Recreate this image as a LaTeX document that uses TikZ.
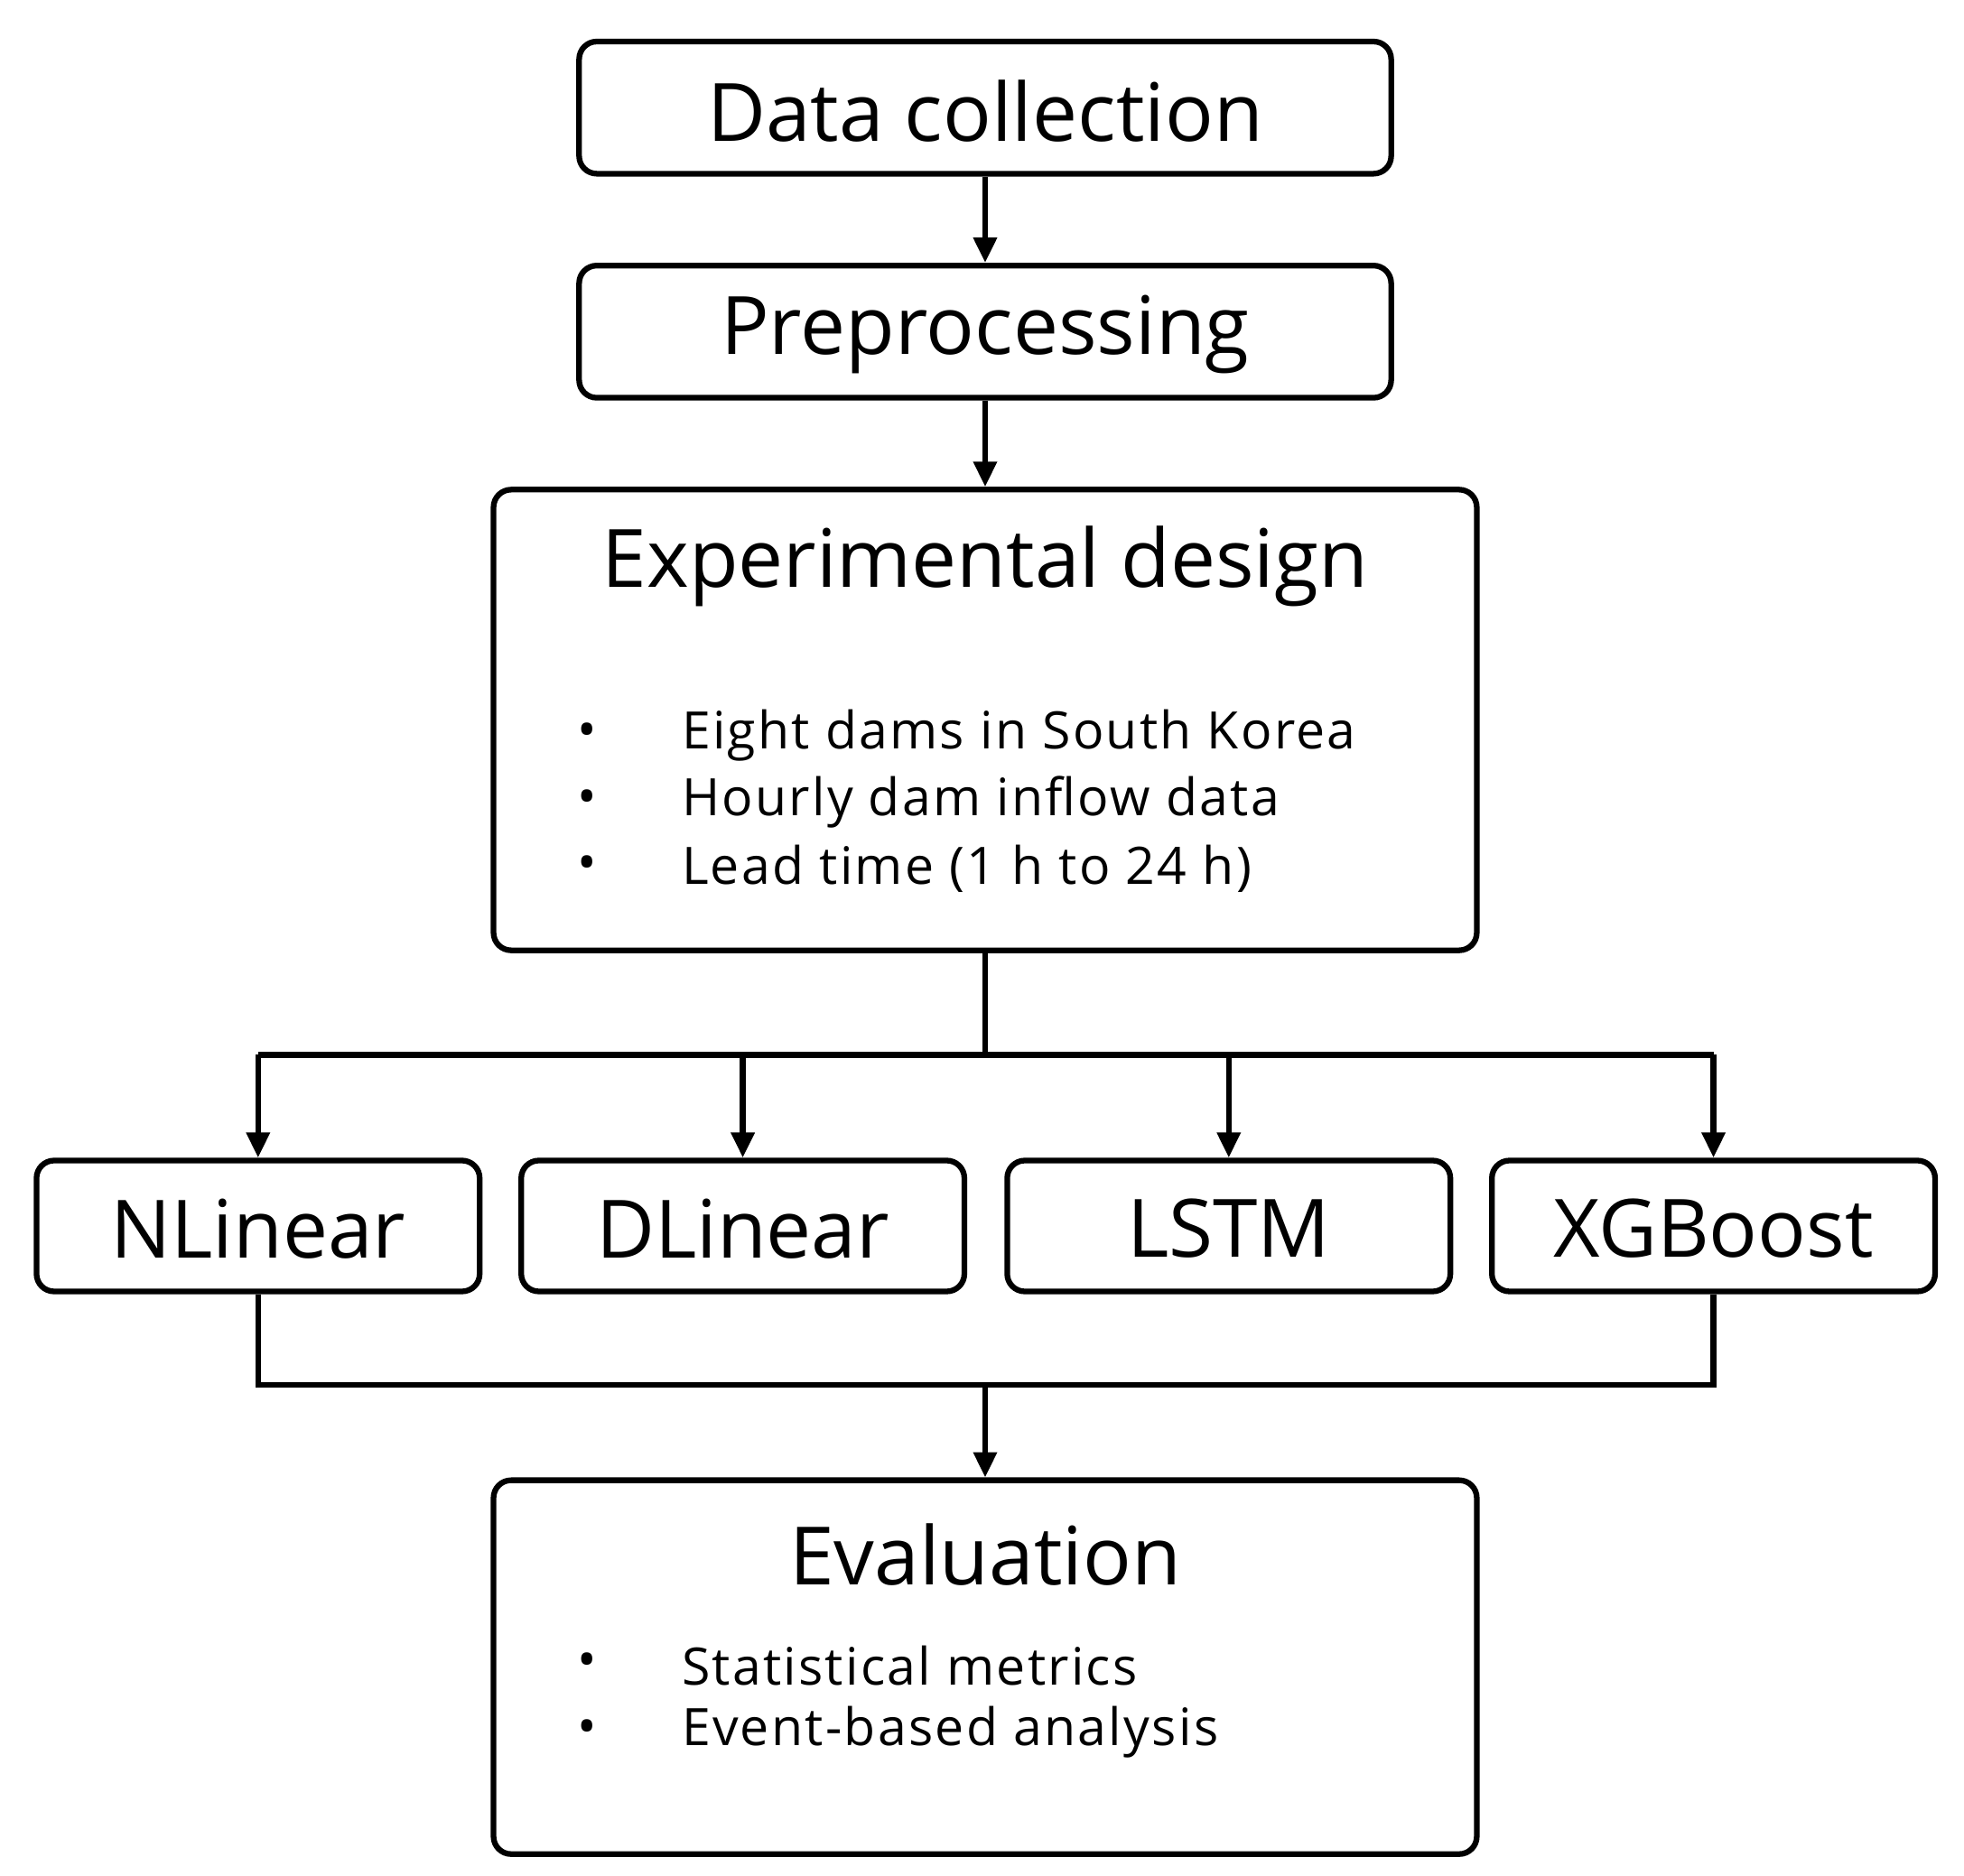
\documentclass[tikz,border=0pt]{standalone}
\usepackage{fontspec}
\setmainfont{Open Sans}
\usetikzlibrary{arrows.meta}
\begin{document}
\begin{tikzpicture}[x=1pt,y=-1pt,
  box/.style={draw,line width=4.5pt,rounded corners=14pt,inner sep=0pt},
  big/.style={font=\fontsize{64}{70}\selectfont},
  sm/.style={font=\fontsize{41}{44}\selectfont\addfontfeature{LetterSpace=4},anchor=west},
  arr/.style={line width=4.5pt,-{Triangle[length=20pt,width=18pt]}},
  ln/.style={line width=4.5pt}]
\useasboundingbox (0,0) rectangle (1560,1490);
\node[box,minimum width=645pt,minimum height=105pt] (dc) at (782.5,85.5) {};
\node[big] (dct) at (782.5,88) {Data collection};
\node[box,minimum width=645pt,minimum height=105pt] (pp) at (782.5,263.5) {};
\node[big] (ppt) at (782.5,266) {Preprocessing};
\node[box,minimum width=781pt,minimum height=366pt] (ed) at (782.5,572) {};
\node[big] (edt) at (782.5,450) {Experimental design};
\foreach \y/\t/\n in {584/Eight dams in South Korea/a,637/Hourly dam inflow data/b,690/Lead time (1 h to 24 h)/c}{
  \node[sm] (b\n) at (455,\y) {•};
  \node[sm] (t\n) at (538,\y) {\t};}
\foreach \x/\t/\n in {205/NLinear/m1,590/DLinear/m2,976/LSTM/m3,1361/XGBoost/m4}{
  \node[box,minimum width=352pt,minimum height=104pt] (\n) at (\x,974) {};
  \node[big] at (\x,976) {\t};}
\node[box,minimum width=781pt,minimum height=297pt] (ev) at (782.5,1324.5) {};
\node[big] (evt) at (782.5,1235) {Evaluation};
\foreach \y/\t/\n in {1323/Statistical metrics/d,1376/Event-based analysis/e}{
  \node[sm] (b\n) at (455,\y) {•};
  \node[sm] (t\n) at (538,\y) {\t};}
\coordinate (br) at (782.5,838);
\coordinate (mg) at (782.5,1100);
\draw[arr] (dc.south) -- (pp.north);
\draw[arr] (pp.south) -- (ed.north);
\draw[ln] (ed.south) -- (br);
\draw[ln] (205,838) -- (1361,838);
\foreach \n in {m1,m2,m3,m4}{\draw[arr] (br -| \n.north) -- (\n.north);}
\draw[ln] (m1.south) -- (mg -| m1.south) -- (mg -| m4.south) -- (m4.south);
\draw[arr] (mg) -- (ev.north);
\end{tikzpicture}
\end{document}
